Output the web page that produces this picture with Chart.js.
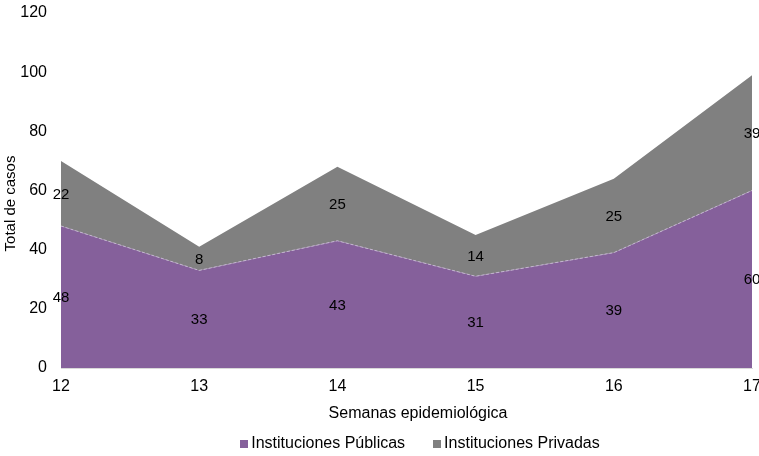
<!DOCTYPE html>
<html>
<head>
<meta charset="utf-8">
<script src="https://cdn.jsdelivr.net/npm/chart.js@4/dist/chart.umd.min.js"></script>
<style>
html,body{margin:0;padding:0;background:#fff;}
#wrap{width:759px;height:456px;position:relative;}
</style>
</head>
<body>
<div id="wrap"><canvas id="c" width="759" height="456"></canvas></div>
<script>
const weeks = ['12', '13', '14', '15', '16', '17'];
const publicas = [48, 33, 43, 31, 39, 60];
const privadas = [22, 8, 25, 14, 25, 39];
const seriesNames = ['Instituciones Públicas', 'Instituciones Privadas'];
const seriesColors = ['#85609B', '#808080'];
const yTitle = 'Total de casos';
const xTitle = 'Semanas epidemiológica';

const FONT = '"Liberation Sans", Arial, sans-serif';

// value labels in the middle of each stacked band
const labelPlugin = {
  id: 'stackLabels',
  afterDatasetsDraw(chart) {
    const ctx = chart.ctx;
    const ys = chart.scales.y;
    ctx.save();
    ctx.font = '15px ' + FONT;
    ctx.fillStyle = '#000';
    ctx.textAlign = 'center';
    ctx.textBaseline = 'middle';
    const n = chart.data.labels.length;
    for (let j = 0; j < n; j++) {
      let base = 0;
      chart.data.datasets.forEach((ds, i) => {
        const meta = chart.getDatasetMeta(i);
        const v = ds.data[j];
        const x = meta.data[j].x;
        const y = ys.getPixelForValue(base + v / 2);
        ctx.fillText(String(v), x, y + 1);
        base += v;
      });
    }
    ctx.restore();
  }
};

// axis titles and legend placed as in the reference
const decorPlugin = {
  id: 'decor',
  afterDraw(chart) {
    const ctx = chart.ctx;
    ctx.save();
    ctx.fillStyle = '#000';
    ctx.textBaseline = 'middle';
    // x title
    ctx.font = '16px ' + FONT;
    ctx.textAlign = 'center';
    ctx.fillText(xTitle, 418, 414);
    // y title
    ctx.save();
    ctx.translate(10.5, 203.5);
    ctx.rotate(-Math.PI / 2);
    ctx.font = '15px ' + FONT;
    ctx.textAlign = 'center';
    ctx.fillText(yTitle, 0, 0);
    ctx.restore();
    // legend
    ctx.font = '16px ' + FONT;
    ctx.textAlign = 'left';
    const box = 8, gap = 3, spacing = 28;
    const items = chart.data.datasets.map((ds) => ({
      text: ds.label, color: ds.backgroundColor, w: ctx.measureText(ds.label).width
    }));
    let total = 0;
    items.forEach((it, i) => { total += box + gap + it.w + (i ? spacing : 0); });
    let x = 420 - total / 2;
    const cy = 444;
    items.forEach((it) => {
      ctx.fillStyle = it.color;
      ctx.fillRect(Math.round(x), cy - box / 2, box, box);
      ctx.fillStyle = '#000';
      ctx.fillText(it.text, x + box + gap, cy);
      x += box + gap + it.w + spacing;
    });
    ctx.restore();
  }
};

new Chart(document.getElementById('c'), {
  type: 'line',
  data: {
    labels: weeks,
    datasets: [
      {
        label: seriesNames[0],
        data: publicas,
        backgroundColor: seriesColors[0],
        borderColor: '#c4b6d0',
        borderWidth: 1,
        borderDash: [3, 2],
        fill: 'origin',
        pointRadius: 0,
        tension: 0
      },
      {
        label: seriesNames[1],
        data: privadas,
        backgroundColor: seriesColors[1],
        borderColor: seriesColors[1],
        borderWidth: 0,
        fill: '-1',
        pointRadius: 0,
        tension: 0
      }
    ]
  },
  options: {
    responsive: false,
    animation: false,
    layout: { padding: { top: 0, right: 0, left: 0, bottom: 0 } },
    plugins: {
      legend: { display: false },
      tooltip: { enabled: false }
    },
    scales: {
      x: {
        type: 'category',
        offset: false,
        grid: { display: false, drawTicks: false },
        border: { display: true, color: '#d9d9d9', width: 1 },
        ticks: { color: '#000', font: { family: FONT, size: 16 }, padding: 9, maxRotation: 0, autoSkip: false },
        afterFit(scale) {
          scale.height = 456 - 368;
          scale.paddingRight = 7;
          scale.paddingLeft = 0;
        }
      },
      y: {
        stacked: true,
        min: 0,
        max: 120,
        grid: { display: false, drawTicks: false },
        border: { display: false },
        ticks: { stepSize: 20, color: '#000', font: { family: FONT, size: 16 }, padding: 14 },
        afterFit(scale) {
          scale.width = 61;
          scale.paddingTop = 13;
          scale.paddingBottom = 0;
        }
      }
    }
  },
  plugins: [labelPlugin, decorPlugin]
});
</script>
</body>
</html>
